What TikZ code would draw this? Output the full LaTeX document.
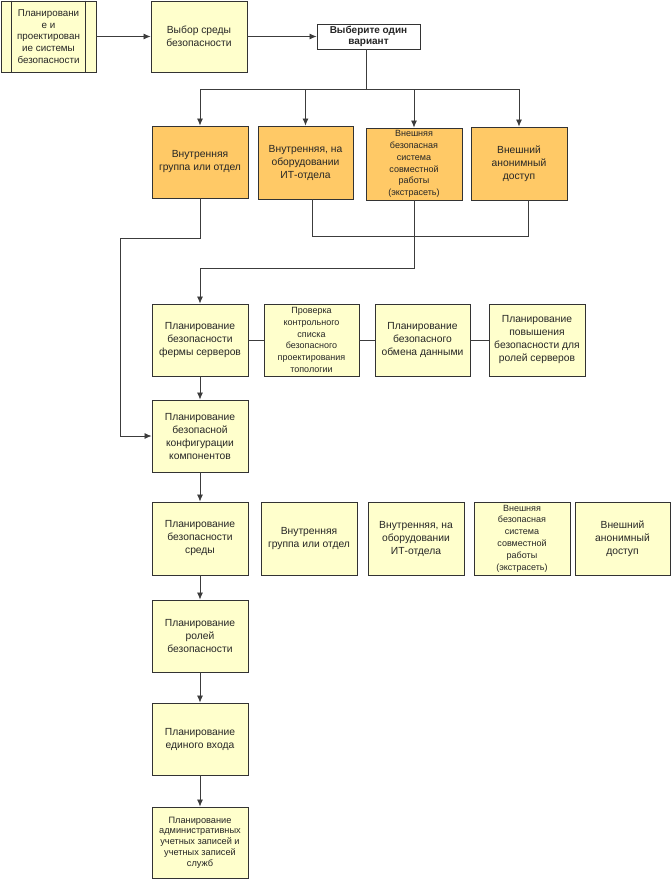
\documentclass[tikz,border=0pt]{standalone}
\usepackage{fontspec}
\setmainfont{Liberation Sans}
\usetikzlibrary{arrows.meta}
\definecolor{boxy}{HTML}{FFFFCC}
\definecolor{boxo}{HTML}{FFC966}
\definecolor{edgec}{HTML}{333333}
\definecolor{linec}{HTML}{3C3C3C}
\tikzset{
  box/.style={draw=edgec, line width=0.9pt, fill=boxy, rectangle, align=center, inner sep=1pt,
    font=\fontsize{10.3}{13}\selectfont, text=black!85},
  obox/.style={box, fill=boxo},
  small/.style={font=\fontsize{9}{11.8}\selectfont},
  conn/.style={draw=linec, line width=0.8pt},
  arr/.style={conn, -{Latex[length=7pt,width=6pt]}},
}
\begin{document}
\begin{tikzpicture}[x=1pt,y=-1pt]
\useasboundingbox (0,0) rectangle (672,879);
% top row
\node[box, minimum width=95pt, minimum height=71pt, font=\fontsize{9.8}{11.7}\selectfont] (start) at (48.5,36.5)
  {Планировани\\е и\\проектирован\\ие системы\\безопасности};
\draw[draw=edgec, line width=0.9pt] ([xshift=11pt]start.north west) -- ([xshift=11pt]start.south west);
\draw[draw=edgec, line width=0.9pt] ([xshift=-11pt]start.north east) -- ([xshift=-11pt]start.south east);
\node[box, minimum width=96pt, minimum height=71pt] (vybor) at (199,36.5) {Выбор среды\\безопасности};
\node[box, fill=white, minimum width=103pt, minimum height=25pt, inner sep=0pt,
  font=\bfseries\fontsize{10}{11.5}\selectfont] (choose) at (368.5,36.5) {Выберите один\\вариант};
% orange row
\node[obox, minimum width=96pt, minimum height=72pt] (o1) at (200,162) {Внутренняя\\группа или отдел};
\node[obox, minimum width=95pt, minimum height=73pt] (o2) at (305.5,162.5) {Внутренняя, на\\оборудовании\\ИТ-отдела};
\node[obox, small, minimum width=96pt, minimum height=72pt] (o3) at (414,164) {Внешняя\\безопасная\\система\\совместной\\работы\\(экстрасеть)};
\node[obox, minimum width=96pt, minimum height=73pt] (o4) at (519,163.5) {Внешний\\анонимный\\доступ};
% row 3
\node[box, minimum width=96pt, minimum height=72pt] (A) at (200,340) {Планирование\\безопасности\\фермы серверов};
\node[box, small, minimum width=95pt, minimum height=72pt] (B) at (311.5,340) {Проверка\\контрольного\\списка\\безопасного\\проектирования\\топологии};
\node[box, minimum width=95pt, minimum height=72pt] (C) at (422.5,340) {Планирование\\безопасного\\обмена данными};
\node[box, minimum width=96pt, minimum height=72pt] (D) at (537,340) {Планирование\\повышения\\безопасности для\\ролей серверов};
% components
\node[box, minimum width=96pt, minimum height=72pt] (comp) at (200,436) {Планирование\\безопасной\\конфигурации\\компонентов};
% row 5
\node[box, minimum width=96pt, minimum height=73pt] (E) at (200,538.5) {Планирование\\безопасности\\среды};
\node[box, minimum width=96pt, minimum height=73pt] (F) at (309,538.5) {Внутренняя\\группа или отдел};
\node[box, minimum width=96pt, minimum height=73pt] (G) at (416,538.5) {Внутренняя, на\\оборудовании\\ИТ-отдела};
\node[box, small, minimum width=96pt, minimum height=73pt] (H) at (522,538.5) {Внешняя\\безопасная\\система\\совместной\\работы\\(экстрасеть)};
\node[box, minimum width=95pt, minimum height=73pt] (I) at (622.5,538.5) {Внешний\\анонимный\\доступ};
% bottom column
\node[box, minimum width=96pt, minimum height=72pt] (J) at (200,636) {Планирование\\ролей\\безопасности};
\node[box, minimum width=96pt, minimum height=72pt] (K) at (200,739) {Планирование\\единого входа};
\node[box, font=\fontsize{9.2}{10.8}\selectfont, minimum width=96pt, minimum height=71pt] (L) at (200,842.5) {Планирование\\административных\\учетных записей и\\учетных записей\\служб};
% connectors top
\draw[arr] (start.east) -- (vybor.west);
\draw[arr] (vybor.east) -- (choose.west);
\coordinate (busL) at (200,89);
\coordinate (busR) at (519,89);
\coordinate (busM) at (366,89);
\draw[conn] (choose.south -| busM) -- (busM);
\draw[conn] (busL) -- (busR);
\draw[arr] (busL) -- (o1.north);
\draw[arr] (busL -| o2.north) -- (o2.north);
\draw[arr] (busL -| o3.north) -- (o3.north);
\draw[arr] (busR) -- (o4.north);
% from orange row
\coordinate (c1) at (120,238);
\draw[arr] (o1.south) |- (c1) |- (comp.west);
\coordinate (m2) at (312,236);
\coordinate (m4) at (528,236);
\draw[conn] (o2.south -| m2) -- (m2) -- (m4) -- (o4.south -| m4);
\coordinate (c3) at (414,268);
\draw[arr] (o3.south) -- (c3) -| (A.north);
% row 3 links
\draw[conn] (A.east) -- (B.west);
\draw[conn] (B.east) -- (C.west);
\draw[conn] (C.east) -- (D.west);
% main column
\draw[arr] (A.south) -- (comp.north);
\draw[arr] (comp.south) -- (E.north);
\draw[arr] (E.south) -- (J.north);
\draw[arr] (J.south) -- (K.north);
\draw[arr] (K.south) -- (L.north);
\end{tikzpicture}
\end{document}
